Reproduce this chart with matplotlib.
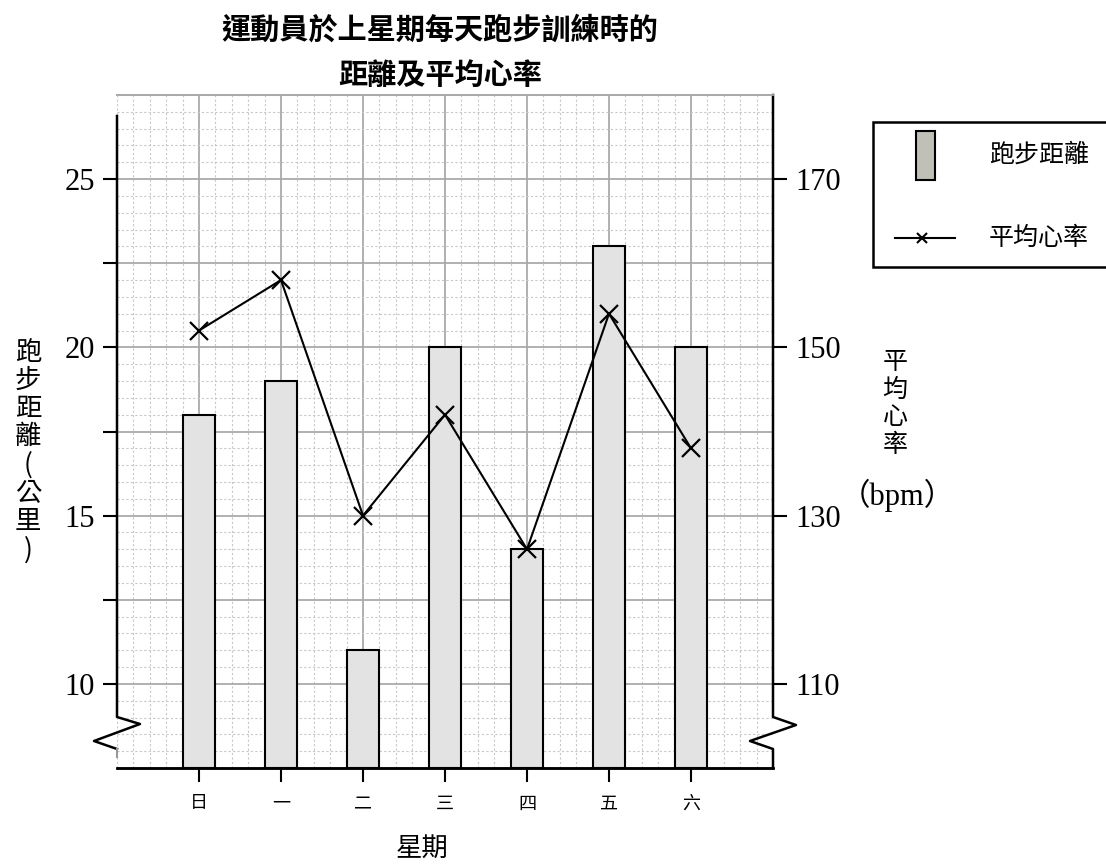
import matplotlib.pyplot as plt
from matplotlib.ticker import MultipleLocator
from matplotlib.patches import Rectangle
from matplotlib.lines import Line2D
import numpy as np

plt.rcParams['font.family'] = ['Noto Sans CJK TC', 'DejaVu Sans']

days = ['日', '一', '二', '三', '四', '五', '六']
distance = [18, 19, 11, 20, 14, 23, 20]      # 公里
heart_rate = [152, 158, 130, 142, 126, 154, 138]  # bpm

dist_ticks = [10, 12.5, 15, 17.5, 20, 22.5, 25]
dist_labels = ['10', '', '15', '', '20', '', '25']
hr_ticks = [110, 130, 150, 170]

num_font = 'Liberation Serif'
W, H = 1106, 865

fig = plt.figure(figsize=(W / 100, H / 100), dpi=100)
ax = fig.add_axes([117 / W, 1 - 768 / H, 656 / W, 673 / H])
ax2 = ax.twinx()

x = np.arange(len(days))
base = 7.5
ax.bar(x, np.array(distance) - base, bottom=base, width=0.4,
       color='#e3e3e3', edgecolor='black', linewidth=1.5, zorder=3)
ax.set_xlim(-1, 7)
ax.set_ylim(7.5, 27.5)
ax2.set_ylim(100, 180)

# grid paper
ax.set_xticks(x)
ax.set_xticklabels(days, fontsize=13)
ax.xaxis.set_minor_locator(MultipleLocator(0.2))
ax.set_yticks(dist_ticks)
ax.set_yticklabels(dist_labels, family=num_font, fontsize=22)
ax.yaxis.set_minor_locator(MultipleLocator(0.5))
ax.tick_params(which='minor', length=0)
ax.tick_params(axis='x', length=10, width=1.5, pad=9)
ax.tick_params(axis='y', length=10, width=1.5, pad=6)
ax.grid(which='major', color='#aaaaaa', linewidth=1.3, zorder=0)
ax.grid(which='minor', color='#c8c8c8', linewidth=0.8, linestyle=(0, (2, 2)), zorder=0)
ax.set_axisbelow(True)

ax2.plot(x, heart_rate, color='black', linewidth=1.5, marker='x',
         markersize=13, markeredgewidth=1.6, zorder=4)
ax2.set_yticks(hr_ticks)
ax2.set_yticklabels([str(t) for t in hr_ticks], family=num_font, fontsize=22)
ax2.tick_params(axis='y', length=10, width=1.5, pad=6)

for a in (ax, ax2):
    a.spines['left'].set_visible(False)
    a.spines['right'].set_visible(False)
    a.spines['top'].set_color('#aaaaaa')
    a.spines['top'].set_linewidth(1.3)
    a.spines['bottom'].set_linewidth(1.8)

# axis lines with break marks
fw, fh = 656, 673
def yf(py):
    return (768 - py) / fh

left_x = [0, 0, 23 / fw, -23 / fw, 0]
left_y = [yf(116), yf(717), yf(724), yf(741), yf(749)]
ax.plot(left_x, left_y, color='black', lw=1.8, transform=ax.transAxes,
        clip_on=False, zorder=5)
ax.plot([0, 0], [yf(749), yf(757)], color='#999999', lw=1.5,
        transform=ax.transAxes, clip_on=False, zorder=5)
right_x = [1, 1, 1 + 23 / fw, 1 - 23 / fw, 1, 1]
right_y = [1, yf(717), yf(725), yf(741), yf(749), 0]
ax.plot(right_x, right_y, color='black', lw=1.8, transform=ax.transAxes,
        clip_on=False, zorder=5)

# titles and labels
fig.text(440 / W, 1 - 30 / H, '運動員於上星期每天跑步訓練時的', ha='center',
         va='center', fontsize=21, fontweight='bold')
fig.text(440 / W, 1 - 75 / H, '距離及平均心率', ha='center',
         va='center', fontsize=21, fontweight='bold')
fig.text(422 / W, 1 - 848 / H, '星期', ha='center', va='center', fontsize=19)

# vertical axis titles, one character per line
left_label = ['跑', '步', '距', '離', '(', '公', '里', ')']
for i, ch in enumerate(left_label):
    fig.text(28 / W, 1 - (352 + 28.3 * i) / H, ch, ha='center', va='center',
             fontsize=19)
right_label = ['平', '均', '心', '率']
for i, ch in enumerate(right_label):
    fig.text(895 / W, 1 - (362 + 27.7 * i) / H, ch, ha='center', va='center',
             fontsize=18)
fig.text(897 / W, 1 - 495 / H, '（bpm）', ha='center', va='center',
         fontsize=22, family=[num_font, 'Noto Sans CJK TC'])

# legend box
fig.patches.append(Rectangle((873 / W, 1 - 267 / H), 240 / W, 145 / H,
                             transform=fig.transFigure, facecolor='white',
                             edgecolor='black', lw=1.8))
fig.patches.append(Rectangle((916 / W, 1 - 180 / H), 19 / W, 49 / H,
                             transform=fig.transFigure, facecolor='#c0c0b8',
                             edgecolor='black', lw=1.5))
fig.lines.append(Line2D([895 / W, 955 / W], [1 - 238 / H, 1 - 238 / H],
                        transform=fig.transFigure, color='black', lw=1.5))
fig.lines.append(Line2D([922 / W], [1 - 238 / H], transform=fig.transFigure,
                        color='black', marker='x', markersize=7, mew=1.5))
fig.text(1039 / W, 1 - 155 / H, '跑步距離', ha='center', va='center', fontsize=18)
fig.text(1039 / W, 1 - 238 / H, '平均心率', ha='center', va='center', fontsize=18)

fig.savefig('out.png', dpi=100)
